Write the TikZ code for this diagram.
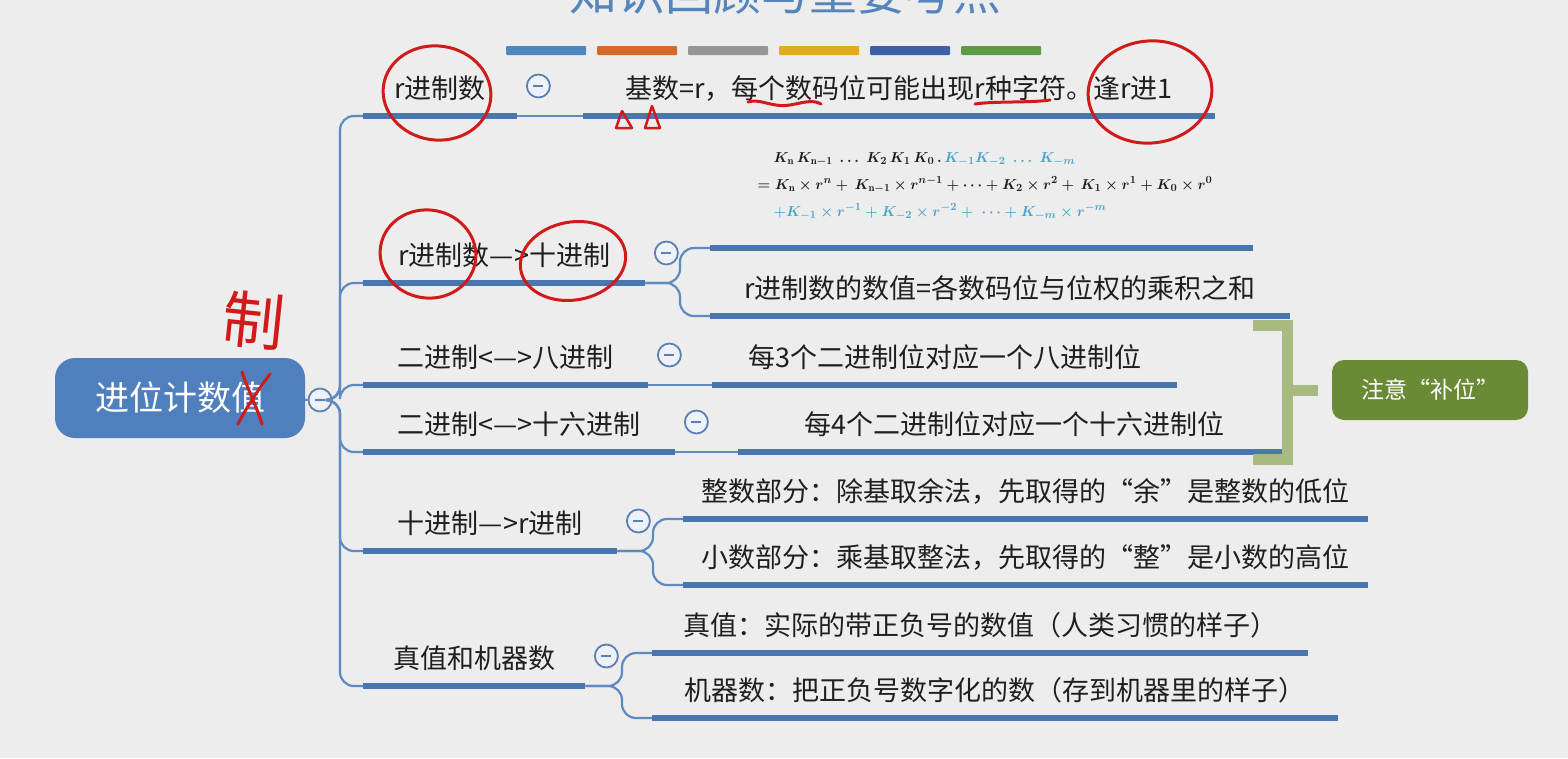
\documentclass[tikz,border=0pt]{standalone}
\usepackage{fontspec}
\usepackage{amsmath}
\usepackage{tikz}
\usetikzlibrary{positioning}
\newfontfamily\cjk{Noto Sans CJK SC}

\definecolor{bgcol}{HTML}{EDEDED}
\definecolor{ink}{HTML}{1F1F1F}
\definecolor{rootblue}{HTML}{4F7FBC}
\definecolor{barblue}{HTML}{4A76B0}
\definecolor{linkblue}{HTML}{5F8AC0}
\definecolor{foldblue}{HTML}{5A80B3}
\definecolor{foldfill}{HTML}{EEF2F8}
\definecolor{notegreen}{HTML}{6A8A36}
\definecolor{brackgreen}{HTML}{A9BA80}
\definecolor{titleblue}{HTML}{5585BC}
\definecolor{fblue}{HTML}{4AA6C9}
\definecolor{penred}{HTML}{D11A1A}
\definecolor{cbarA}{HTML}{4F86C0}
\definecolor{cbarB}{HTML}{D4692E}
\definecolor{cbarC}{HTML}{969696}
\definecolor{cbarD}{HTML}{E3AC1E}
\definecolor{cbarE}{HTML}{3C5FA6}
\definecolor{cbarF}{HTML}{5F9B43}

\begin{document}
\begin{tikzpicture}[x=1pt, y=-1pt,
    rootbox/.style={rounded corners=20pt, fill=rootblue, text=white,
        minimum width=250pt, minimum height=80pt,
        font=\cjk\fontsize{34}{40}\selectfont},
    topic/.style={anchor=south west, text=ink, inner xsep=2pt, inner ysep=12pt,
        text height=20pt, text depth=5pt,
        font=\cjk\fontsize{27}{32}\selectfont},
    bar/.style={draw=barblue, line width=6pt},
    link/.style={draw=linkblue, line width=2.2pt},
    fold/.style={circle, draw=foldblue, fill=foldfill, line width=1.8pt,
        minimum size=23pt, inner sep=0pt,
        path picture={\draw[foldblue, line width=1.6pt]
            ([xshift=-5pt]path picture bounding box.center) --
            ([xshift=5pt]path picture bounding box.center);}},
    note/.style={rounded corners=12pt, fill=notegreen, text=white,
        minimum width=196pt, minimum height=60pt,
        font=\cjk\fontsize{23}{28}\selectfont},
    brackline/.style={draw=brackgreen, line width=11pt},
    redpen/.style={draw=penred, line width=3pt, line cap=round, line join=round}]

    % Background
    \fill[bgcol] (0,0) rectangle (1568,758);
    \useasboundingbox (0,0) rectangle (1568,758);
    \clip (0,0) rectangle (1568,758);

    % Title and colour bars
    \node[anchor=base, text=titleblue, font=\cjk\fontsize{48}{56}\selectfont] (title) at (785,10) {知识回顾与重要考点};
    \foreach \i/\col in {0/cbarA,1/cbarB,2/cbarC,3/cbarD,4/cbarE,5/cbarF}
        \fill[\col, rounded corners=1pt] (506+91*\i,46) rectangle ++(80,9);

    % Nodes
    \node[rootbox] (root) at (180,398) {进位计数值};
    \node[fold] (rootfold) at (320,400) {};

    \node[topic, minimum width=154pt] (b1) at (363,116) {r进制数};
    \node[topic, minimum width=632pt] (k1) at (583,116) {基数=r，每个数码位可能出现r种字符。逢r进1};

    \node[topic, minimum width=282pt] (b2) at (363,283) {r进制数—>十进制};
    \node[topic, minimum width=543pt] (k21) at (710,248) {};
    \node[topic, minimum width=580pt] (k22) at (710,316) {r进制数的数值=各数码位与位权的乘积之和};
    \node[align=left, text=ink, font=\fontsize{15.3}{27}\selectfont\boldmath] (fml) at (985,186)
        {\hspace{16pt}$K_{\mathrm{n}}\,K_{\mathrm{n-1}}\ \dots\ K_2\,K_1\,K_0\,.\,\textcolor{fblue}{K_{-1}K_{-2}\ \dots\ K_{-m}}$\\
         $=K_{\mathrm{n}}\times r^{n}+\,K_{\mathrm{n-1}}\times r^{n-1}+\cdots+K_2\times r^2+\,K_1\times r^1+K_0\times r^0$\\
         \hspace{16pt}\textcolor{fblue}{$+K_{-1}\times r^{-1}+K_{-2}\times r^{-2}+\ \dots+K_{-m}\times r^{-m}$}};

    \node[topic, minimum width=285pt] (b3) at (363,385) {二进制<—>八进制};
    \node[topic, minimum width=465pt] (k3) at (712,385) {每3个二进制位对应一个八进制位};

    \node[topic, minimum width=312pt] (b4) at (363,452) {二进制<—>十六进制};
    \node[topic, minimum width=552pt] (k4) at (738,452) {每4个二进制位对应一个十六进制位};

    \node[topic, minimum width=254pt] (b5) at (363,551) {十进制—>r进制};
    \node[topic, minimum width=685pt] (k51) at (683,519) {整数部分：除基取余法，先取得的“余”是整数的低位};
    \node[topic, minimum width=685pt] (k52) at (683,585) {小数部分：乘基取整法，先取得的“整”是小数的高位};

    \node[topic, minimum width=222pt] (b6) at (363,686) {真值和机器数};
    \node[topic, minimum width=656pt] (k61) at (652,653) {真值：实际的带正负号的数值（人类习惯的样子）};
    \node[topic, minimum width=686pt] (k62) at (652,718) {机器数：把正负号数字化的数（存到机器里的样子）};

    \foreach \n in {b1,b2,b3,b4,b5,b6}
        \node[fold] (f\n) at ([shift={(21,-30)}]\n.south east) {};

    \node[note] (note) at (1430,390) {注意“补位”};

    % Edges
    \coordinate (trunk) at (340,400);
    \draw[link] (root) -- (rootfold);
    \foreach \n in {b1,b2,b3,b4,b5,b6}
        \draw[link, rounded corners=14pt] (rootfold.east) -- (trunk) |- (\n.south west);

    \draw[link] (b1.south east) -- (k1.south west);
    \draw[link] (b3.south east) -- (k3.south west);
    \draw[link] (b4.south east) -- (k4.south west);

    \coordinate (j2) at (680,283);
    \draw[link, rounded corners=14pt] (b2.south east) -- (j2) |- (k21.south west);
    \draw[link, rounded corners=14pt] (b2.south east) -- (j2) |- (k22.south west);
    \coordinate (j5) at (653,551);
    \draw[link, rounded corners=14pt] (b5.south east) -- (j5) |- (k51.south west);
    \draw[link, rounded corners=14pt] (b5.south east) -- (j5) |- (k52.south west);
    \coordinate (j6) at (622,686);
    \draw[link, rounded corners=14pt] (b6.south east) -- (j6) |- (k61.south west);
    \draw[link, rounded corners=14pt] (b6.south east) -- (j6) |- (k62.south west);

    \foreach \n in {b1,k1,b2,k21,k22,b3,k3,b4,k4,b5,k51,k52,b6,k61,k62}
        \draw[bar] (\n.south west) -- (\n.south east);

    % Bracket
    \coordinate (brk) at (1287,390);
    \draw[brackline] (1253,325) -- (1287,325) -- (1287,459) -- (1253,459);
    \draw[brackline] (brk) -- ([xshift=-14pt]note.west);

    % Red pen marks
    \draw[redpen, rotate around={-8:(437,93)}] (437,93) ellipse [x radius=54pt, y radius=47pt];
    \draw[redpen, rotate around={6:(1150,92)}] (1150,92) ellipse [x radius=62pt, y radius=51pt];
    \draw[redpen] (748,102) .. controls (760,98) and (772,108) .. (790,105) .. controls (802,103) and (812,99) .. (821,104);
    \draw[redpen] (975,104) .. controls (995,101) and (1030,103) .. (1050,100);
    \draw[redpen, line width=2.5pt] (622,111) -- (616,128) -- (632,128) -- cycle;
    \draw[redpen, line width=2.5pt] (652,106) -- (645,128) -- (660,128) -- cycle;
    \draw[redpen, rotate around={-10:(428,254)}] (428,254) ellipse [x radius=48pt, y radius=44pt];
    \draw[redpen, rotate around={10:(573,261)}] (573,261) ellipse [x radius=53pt, y radius=39pt];
    \draw[redpen] (242,372) .. controls (250,395) and (258,410) .. (262,424);
    \draw[redpen] (270,374) .. controls (258,390) and (246,408) .. (238,424);
    \node[text=penred, rotate=-6, font=\cjk\fontsize{62}{70}\selectfont] (fix) at (254,320) {制};
\end{tikzpicture}
\end{document}
